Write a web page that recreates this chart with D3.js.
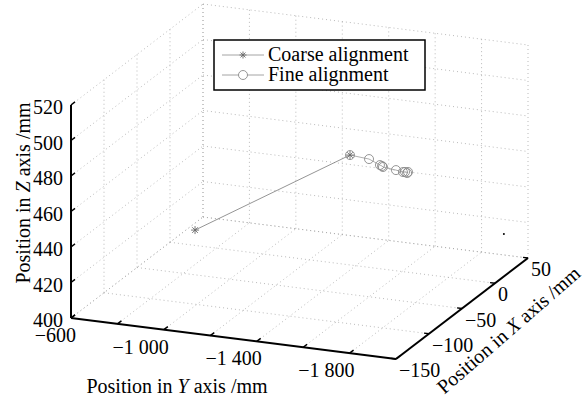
<!DOCTYPE html>
<html>
<head>
<meta charset="utf-8">
<script src="https://cdn.jsdelivr.net/npm/d3@7"></script>
<style>
  body { margin: 0; background: #fff; }
</style>
</head>
<body>
<div id="chart"></div>
<script>
const width = 584;
const height = 401;

// Ticks of the three axes
const xTicks = [-150, -100, -50, 0, 50];
const yTicks = [-600, -800, -1000, -1200, -1400, -1600, -1800, -2000];
const yTickLabels = [-600, -1000, -1400, -1800];
const zTicks = [400, 420, 440, 460, 480, 500, 520];

// Coarse alignment (X, Y, Z in mm)
const coarseX = [-120, -60];
const coarseY = [-1049, -1546];
const coarseZ = [448.4, 481.8];

// Fine alignment (X, Y, Z in mm)
const fineX = [-60, -60, -60, -60, -60, -60, -60, -60, -60, -60];
const fineY = [-1546, -1628, -1675, -1684, -1688, -1744, -1774, -1783, -1792, -1796];
const fineZ = [481.8, 480.9, 478.3, 477.9, 477.4, 476.6, 476.0, 476.2, 475.7, 476.4];

// isolated point
const dotX = [30];
const dotY = [-1953];
const dotZ = [418.4];

const svg = d3.select("#chart").append("svg")
    .attr("width", width)
    .attr("height", height)
    .style("font-family", '"Liberation Serif"')
    .style("font-size", "20px");

// 3D -> 2D (orthographic view)
const xs = d3.scaleLinear().domain([-150, 50]).range([0, 1]);
const ys = d3.scaleLinear().domain([-600, -2000]).range([0, 1]);
const zs = d3.scaleLinear().domain([400, 520]).range([0, 1]);
const origin = [71, 318];
const ex = [132, -101];
const ey = [325, 41];
const ez = [0, -213];

function proj(x, y, z) {
    const a = xs(x), b = ys(y), c = zs(z);
    return [origin[0] + a * ex[0] + b * ey[0] + c * ez[0],
            origin[1] + a * ex[1] + b * ey[1] + c * ez[1]];
}

const fmt = d3.formatLocale({ decimal: ".", thousands: " ", grouping: [3], currency: ["", ""], minus: "\u2212" }).format(",d");

const x0 = -150, x1 = 50, y0 = -600, y1 = -2000, z0 = 400, z1 = 520;

// Grid lines on the back planes
const grid = [];
yTicks.forEach(y => {
    grid.push([proj(x1, y, z0), proj(x1, y, z1)]);   // back wall
    grid.push([proj(x0, y, z0), proj(x1, y, z0)]);   // floor
});
zTicks.forEach(z => {
    grid.push([proj(x1, y0, z), proj(x1, y1, z)]);   // back wall
    grid.push([proj(x0, y0, z), proj(x1, y0, z)]);   // left wall
});
xTicks.forEach(x => {
    grid.push([proj(x, y0, z0), proj(x, y0, z1)]);   // left wall
    grid.push([proj(x, y0, z0), proj(x, y1, z0)]);   // floor
});

svg.append("g").selectAll("line")
    .data(grid)
    .enter().append("line")
    .attr("x1", d => d[0][0]).attr("y1", d => d[0][1])
    .attr("x2", d => d[1][0]).attr("y2", d => d[1][1])
    .attr("stroke", "#a8a8a8")
    .attr("stroke-width", 0.8)
    .attr("stroke-dasharray", "1,3");

// Axis lines
const axes = svg.append("g").attr("stroke", "#000").attr("stroke-width", 2).attr("fill", "none");
const axisLines = [
    [proj(x0, y0, z0), proj(x0, y0, z1)],
    [proj(x0, y0, z0), proj(x0, y1, z0)],
    [proj(x0, y1, z0), proj(x1, y1, z0)]
];
axes.selectAll("line.axis")
    .data(axisLines)
    .enter().append("line")
    .attr("class", "axis")
    .attr("x1", d => d[0][0]).attr("y1", d => d[0][1])
    .attr("x2", d => d[1][0]).attr("y2", d => d[1][1]);

// Tick marks
const tickLen = 5;
function unit(v) { const l = Math.hypot(v[0], v[1]); return [v[0] / l, v[1] / l]; }
const ux = unit(ex), uy = unit(ey);
const tickSegs = [];
zTicks.forEach(z => { const p = proj(x0, y0, z); tickSegs.push([p, [p[0] + ux[0] * tickLen, p[1] + ux[1] * tickLen]]); });
yTicks.forEach(y => { const p = proj(x0, y, z0); tickSegs.push([p, [p[0] + ux[0] * tickLen, p[1] + ux[1] * tickLen]]); });
xTicks.forEach(x => { const p = proj(x, y1, z0); tickSegs.push([p, [p[0] - uy[0] * tickLen, p[1] - uy[1] * tickLen]]); });
axes.selectAll("line.tick")
    .data(tickSegs)
    .enter().append("line")
    .attr("class", "tick")
    .attr("stroke-width", 1.5)
    .attr("x1", d => d[0][0]).attr("y1", d => d[0][1])
    .attr("x2", d => d[1][0]).attr("y2", d => d[1][1]);

// Tick labels
svg.append("g").selectAll("text")
    .data(zTicks)
    .enter().append("text")
    .attr("x", d => proj(x0, y0, d)[0] - 8)
    .attr("y", d => proj(x0, y0, d)[1] + 9)
    .attr("text-anchor", "end")
    .text(d => fmt(d));

svg.append("g").selectAll("text")
    .data(yTickLabels)
    .enter().append("text")
    .attr("x", d => proj(x0, d, z0)[0] + 5)
    .attr("y", d => proj(x0, d, z0)[1] + 24)
    .attr("text-anchor", "end")
    .text(d => fmt(d));

svg.append("g").selectAll("text")
    .data(xTicks)
    .enter().append("text")
    .attr("x", d => proj(d, y1, z0)[0] + 3)
    .attr("y", d => proj(d, y1, z0)[1] + 18)
    .attr("text-anchor", "start")
    .text(d => fmt(d));

// Axis titles
const zt = svg.append("text")
    .attr("transform", "translate(30,193) rotate(-90)")
    .attr("text-anchor", "middle");
zt.append("tspan").text("Position in ");
zt.append("tspan").style("font-style", "italic").text("Z");
zt.append("tspan").text(" axis /mm");

const yt = svg.append("text")
    .attr("x", 177).attr("y", 393)
    .attr("text-anchor", "middle");
yt.append("tspan").text("Position in ");
yt.append("tspan").style("font-style", "italic").text("Y");
yt.append("tspan").text(" axis /mm");

const xt = svg.append("text")
    .attr("transform", "translate(513,335) rotate(-41)")
    .attr("text-anchor", "middle");
xt.append("tspan").text("Position in ");
xt.append("tspan").style("font-style", "italic").text("X");
xt.append("tspan").text(" axis /mm");

// Data
const coarse = coarseX.map((x, i) => proj(x, coarseY[i], coarseZ[i]));
const fine = fineX.map((x, i) => proj(x, fineY[i], fineZ[i]));
const dots = dotX.map((x, i) => proj(x, dotY[i], dotZ[i]));

const line = d3.line();
const lineColor = "#7a7a7a";

function star(g, r) {
    const d = r * Math.SQRT1_2;
    g.append("path")
        .attr("d", `M${-r},0H${r}M0,${-r}V${r}M${-d},${-d}L${d},${d}M${-d},${d}L${d},${-d}`)
        .attr("stroke", "#6a6a6a")
        .attr("stroke-width", 0.9)
        .attr("fill", "none");
}

svg.append("path")
    .attr("d", line(fine))
    .attr("stroke", "#9a9a9a")
    .attr("stroke-width", 0.8)
    .attr("fill", "none");

svg.append("g").selectAll("circle")
    .data(fine)
    .enter().append("circle")
    .attr("cx", d => d[0]).attr("cy", d => d[1])
    .attr("r", 4.5)
    .attr("fill", "none")
    .attr("stroke", "#8a8a8a")
    .attr("stroke-width", 0.9);

svg.append("path")
    .attr("d", line(coarse))
    .attr("stroke", lineColor)
    .attr("stroke-width", 0.8)
    .attr("fill", "none");

svg.append("g").selectAll("g")
    .data(coarse)
    .enter().append("g")
    .attr("transform", d => `translate(${d[0]},${d[1]})`)
    .each(function () { star(d3.select(this), 4); });

svg.append("g").selectAll("circle")
    .data(dots)
    .enter().append("circle")
    .attr("cx", d => d[0]).attr("cy", d => d[1])
    .attr("r", 1)
    .attr("fill", "#000");

// Legend
const legend = svg.append("g");
legend.append("rect")
    .attr("x", 214).attr("y", 40)
    .attr("width", 211).attr("height", 50)
    .attr("fill", "#fff")
    .attr("stroke", "#000")
    .attr("stroke-width", 1.5);

legend.append("line")
    .attr("x1", 222).attr("x2", 264).attr("y1", 55).attr("y2", 55)
    .attr("stroke", "#9a9a9a").attr("stroke-width", 0.9);
star(legend.append("g").attr("transform", "translate(243,55)"), 3.5);
legend.append("text").attr("x", 268).attr("y", 61).text("Coarse alignment");

legend.append("line")
    .attr("x1", 222).attr("x2", 264).attr("y1", 75).attr("y2", 75)
    .attr("stroke", "#9a9a9a").attr("stroke-width", 0.9);
legend.append("circle")
    .attr("cx", 243).attr("cy", 75).attr("r", 4.5)
    .attr("fill", "#fff").attr("stroke", "#8a8a8a").attr("stroke-width", 0.9);
legend.append("text").attr("x", 268).attr("y", 81).text("Fine alignment");
</script>
</body>
</html>
